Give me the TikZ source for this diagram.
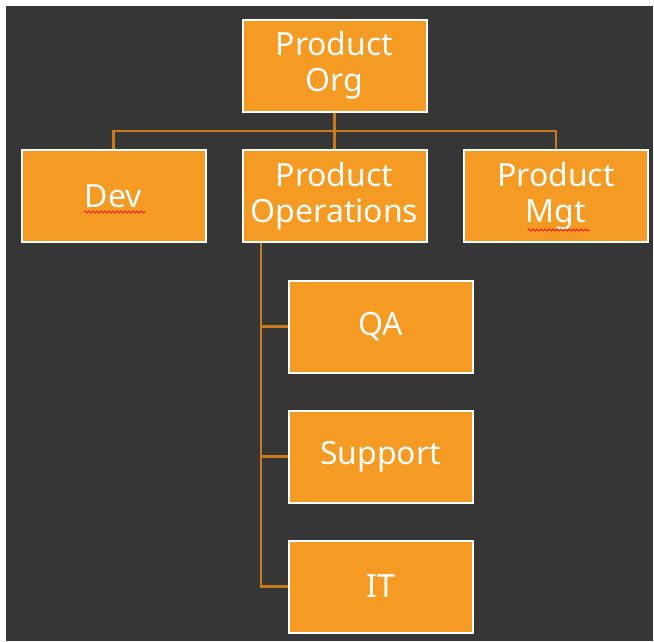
\documentclass[tikz,border=0pt]{standalone}
\usepackage{fontspec}
\setmainfont{Noto Sans}
\usetikzlibrary{decorations.pathmorphing}
\definecolor{bgdark}{HTML}{363636}
\definecolor{boxorange}{HTML}{F59A23}
\definecolor{linkorange}{HTML}{C97A1C}
\tikzset{
  orgbox/.style={draw=white, line width=2pt, fill=boxorange, text=white,
    minimum width=184pt, minimum height=92pt, inner sep=0pt, align=center,
    font=\fontsize{32}{36}\selectfont},
  link/.style={draw=linkorange, line width=2.5pt},
  squiggle/.style={draw=red!85!orange, line width=0.9pt,
    decorate, decoration={snake, amplitude=0.9pt, segment length=4pt}}
}
\begin{document}
\begin{tikzpicture}[x=1pt, y=-1pt]
\useasboundingbox (0,0) rectangle (654,641);
\fill[white] (0,0) rectangle (654,641);
\fill[bgdark] (6,6) rectangle (653,641);
\node[orgbox] (org) at (334.5,65.5) {Product\\Org};
\node[orgbox] (dev) at (113.5,196) {Dev};
\node[orgbox] (ops) at (334.5,196) {Product\\Operations};
\node[orgbox] (mgt) at (556,196) {Product\\Mgt};
\node[orgbox] (qa) at (380.5,326.5) {QA};
\node[orgbox] (sup) at (380.5,456.5) {Support};
\node[orgbox] (it) at (380.5,586.5) {IT};
\coordinate (bus) at (334.5,131);
\coordinate (trunk) at (261,243);
\draw[link] (org.south) -- (bus);
\draw[link] (dev.north) |- (bus) -| (mgt.north);
\draw[link] (bus) -- (ops.north);
\draw[link] (trunk) |- (it.west);
\draw[link] (trunk) |- (qa.west);
\draw[link] (trunk) |- (sup.west);
\draw[squiggle] (84,212) -- (146,212);
\draw[squiggle] (528,230) -- (590,230);
\end{tikzpicture}
\end{document}
